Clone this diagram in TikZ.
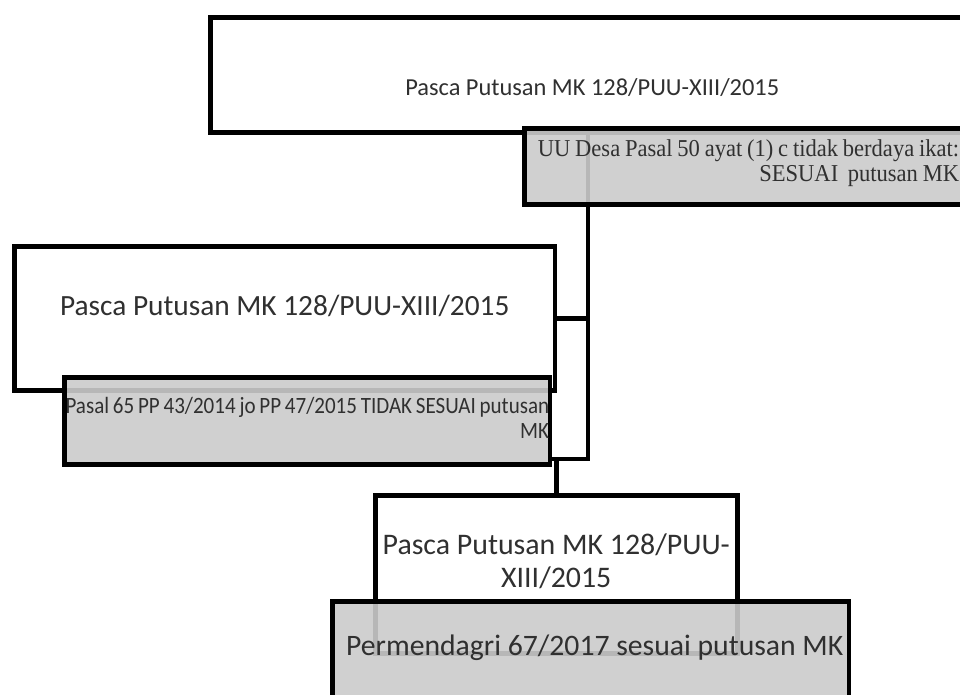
\documentclass[tikz,border=0pt]{standalone}
\usepackage{fontspec}
\setmainfont{Carlito}
\newfontfamily\narrowserif[FakeStretch=0.93,WordSpace=0.85]{Liberation Serif}
\newfontfamily\narrowsans[FakeStretch=0.9,WordSpace=0.8]{Carlito}
\usepackage{xcolor}
\usepackage{tikz}
\usetikzlibrary{positioning}
\definecolor{boxgray}{HTML}{CBCBCB}
\definecolor{inkgray}{HTML}{303030}
\tikzset{link/.style = {line width=2.6pt}}

\begin{document}
\begin{tikzpicture}[x=0.02cm,y=-0.02cm,every node/.style={text=inkgray},
    white box/.style={draw,line width=2.6pt,fill=white,anchor=north west,inner sep=0pt},
    gray box/.style={draw,line width=2.6pt,fill=boxgray,fill opacity=0.9,anchor=north west,inner sep=0pt},
    note text/.style={align=flush right,anchor=east,inner sep=0pt}]
    \useasboundingbox (0,0) rectangle (960,695);
    \clip (0,0) rectangle (960,695);

    % white boxes
    \node[white box,minimum width=15.28cm,minimum height=2.3cm,
        label={[font=\fontsize{13.9}{16}\selectfont,yshift=-0.26cm]center:Pasca Putusan MK 128/PUU-XIII/2015}] (pasca1) at (208,15) {};
    \node[white box,minimum width=10.82cm,minimum height=2.88cm,
        label={[font=\fontsize{16.7}{19}\selectfont,yshift=0.24cm]center:Pasca Putusan MK 128/PUU-XIII/2015}] (pasca2) at (12,244) {};
    \node[white box,minimum width=7.24cm,minimum height=3.16cm,
        label={[font=\fontsize{17}{19}\selectfont,align=center,yshift=0.26cm]center:Pasca Putusan MK 128/PUU-\\XIII/2015}] (pasca3) at (373,493) {};

    \node[gray box,minimum width=9.72cm,minimum height=1.74cm,
        label={[note text,font=\narrowsans\fontsize{13.3}{14.2}\selectfont,xshift=-0.06cm,yshift=0.05cm]east:Pasal 65 PP 43/2014 jo PP 47/2015 TIDAK SESUAI putusan\\MK}] (pasal65) at (62,375) {};

    % connectors
    \coordinate (split) at (588,459);
    \draw[link] (pasca1.south -| split) -- (split) -- (split -| pasal65.east);
    \draw[link] (pasca2.east) -- (pasca2.east -| split);
    \draw[link] (pasca3.north) -- (pasca3.north |- split);

    % gray boxes
    \node[gray box,minimum width=9.06cm,minimum height=1.52cm,
        label={[note text,font=\narrowserif\fontsize{13.8}{14}\selectfont,xshift=-0.4cm,yshift=0.06cm]east:UU Desa Pasal 50 ayat (1) c tidak berdaya ikat:\\SESUAI\ \ putusan MK}] (uudesa) at (522,126) {};
    \node[gray box,minimum width=10.34cm,minimum height=2.08cm,
        label={[font=\fontsize{16.9}{19}\selectfont,xshift=0.08cm,yshift=0.12cm]center:Permendagri 67/2017 sesuai putusan MK}] (permendagri) at (330,599) {};
\end{tikzpicture}
\end{document}
